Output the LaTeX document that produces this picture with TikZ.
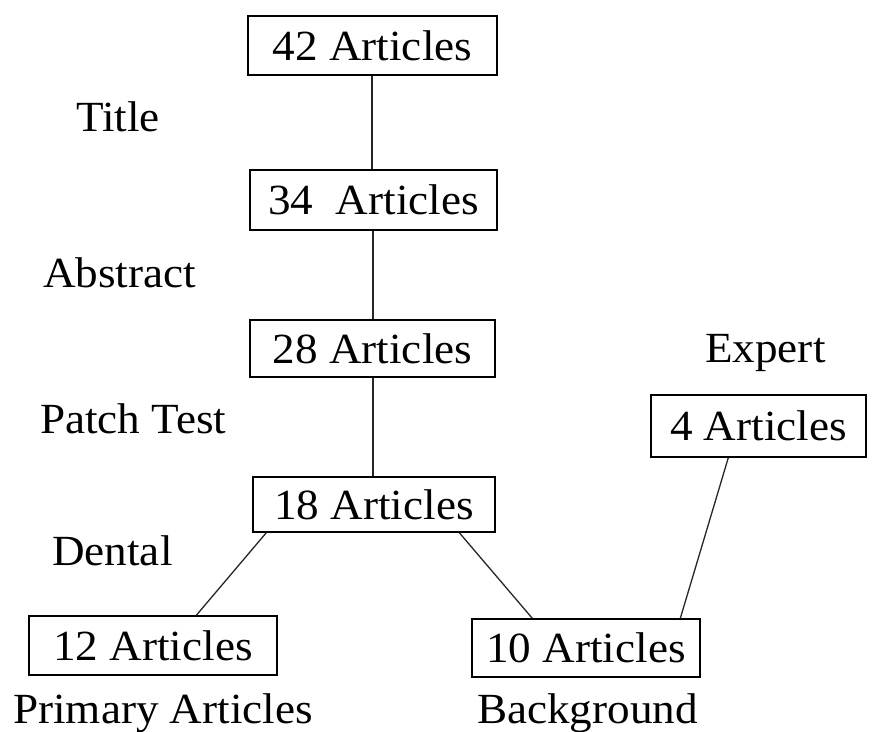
\documentclass[tikz,border=0pt]{standalone}
\usepackage{fontspec}
\setmainfont{Liberation Serif}
\usetikzlibrary{calc}
\newcommand{\bigtxt}[1]{\scalebox{1.05}[1]{#1}}
\begin{document}
\begin{tikzpicture}[x=1pt,y=-1pt,
  every node/.style={font=\fontsize{43}{50}\selectfont},
  abox/.style={draw=black, line width=1.4pt, inner sep=0pt, minimum width=#1},
  lbl/.style={anchor=base west, inner sep=0pt},
  conn/.style={draw=black!85, line width=1.3pt}]
\useasboundingbox (0,0) rectangle (882,731);
% boxes
\node[abox=249pt, minimum height=59pt] (b42) at (372.5,45.5) {\bigtxt{42 Articles}};
\node[abox=247pt, minimum height=60pt] (b34) at (373.5,200) {\bigtxt{34~ Articles}};
\node[abox=245pt, minimum height=57pt] (b28) at (372.5,348.5) {\bigtxt{28 Articles}};
\node[abox=242pt, minimum height=55pt] (b18) at (374,504.5) {\bigtxt{18 Articles}};
\node[abox=215pt, minimum height=62pt] (b4) at (758.5,426) {\bigtxt{4 Articles}};
\node[abox=248pt, minimum height=59pt] (b12) at (153,645.5) {\bigtxt{12 Articles}};
\node[abox=228pt, minimum height=58pt] (b10) at (586,648) {\bigtxt{10 Articles}};
% labels
\node[lbl] (ltitle) at (76,131) {\bigtxt{Title}};
\node[lbl] (labs) at (43,287) {\bigtxt{Abstract}};
\node[lbl] (lpatch) at (40,433) {\bigtxt{Patch Test}};
\node[lbl] (ldental) at (52,565) {\bigtxt{Dental}};
\node[lbl] (lexpert) at (705,362) {\bigtxt{Expert}};
\node[lbl] (lprim) at (13,723) {\bigtxt{Primary Articles}};
\node[lbl] (lback) at (477,723) {\bigtxt{Background}};
% connectors
\draw[conn] (b42.south -| 372,0) -- (b34.north -| 372,0);
\draw[conn] (b34.south -| 373,0) -- (b28.north -| 373,0);
\draw[conn] (b28.south -| 373,0) -- (b18.north -| 373,0);
\draw[conn] ($(b18.south west)+(14,0)$) -- ($(b12.north west)+(168,0)$);
\draw[conn] ($(b18.south west)+(207,0)$) -- ($(b10.north west)+(61,0)$);
\draw[conn] ($(b4.south west)+(78,0)$) -- ($(b10.north west)+(209,0)$);
\end{tikzpicture}
\end{document}
